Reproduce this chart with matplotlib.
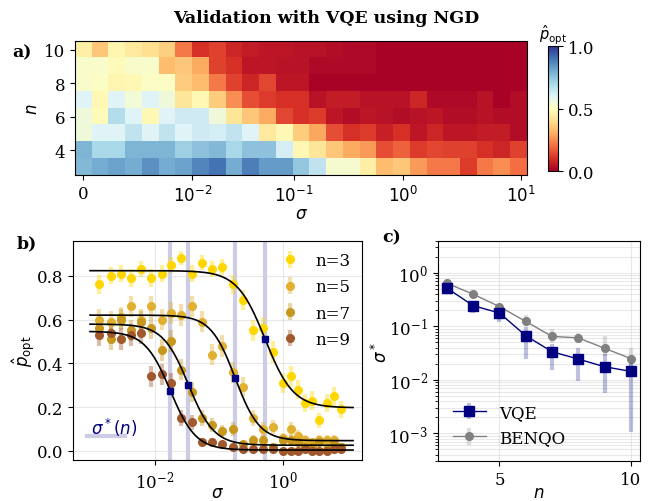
import numpy as np
import matplotlib
matplotlib.use("Agg")
import matplotlib.pyplot as plt
from matplotlib.colors import to_rgba

plt.rcParams['font.family'] = 'serif'
plt.rcParams['font.size'] = 12

# ---- panel a: heatmap of p_opt, rows n=3..10, 27 sigma columns ----
heat_n = [3, 4, 5, 6, 7, 8, 9, 10]
heat_n3 = [0.77, 0.80, 0.82, 0.80, 0.85, 0.80, 0.82, 0.87, 0.90, 0.80, 0.88, 0.83, 0.83, 0.74,
           0.66, 0.53, 0.53, 0.45, 0.33, 0.35, 0.27, 0.22, 0.22, 0.12, 0.22, 0.25, 0.20]
heat_n4 = [0.78, 0.70, 0.70, 0.78, 0.78, 0.78, 0.72, 0.75, 0.77, 0.70, 0.75, 0.75, 0.62, 0.48,
           0.42, 0.35, 0.30, 0.27, 0.15, 0.18, 0.12, 0.14, 0.13, 0.13, 0.10, 0.08, 0.13]
heat_n5 = [0.55, 0.60, 0.60, 0.66, 0.60, 0.66, 0.60, 0.63, 0.62, 0.66, 0.60, 0.43, 0.48, 0.36,
           0.29, 0.15, 0.10, 0.12, 0.07, 0.10, 0.05, 0.08, 0.05, 0.05, 0.06, 0.06, 0.03]
heat_n6 = [0.55, 0.49, 0.68, 0.60, 0.48, 0.60, 0.63, 0.63, 0.55, 0.42, 0.35, 0.30, 0.14, 0.10,
           0.12, 0.05, 0.03, 0.05, 0.04, 0.03, 0.04, 0.05, 0.03, 0.03, 0.04, 0.03, 0.03]
heat_n7 = [0.60, 0.48, 0.60, 0.54, 0.60, 0.55, 0.42, 0.48, 0.36, 0.25, 0.15, 0.12, 0.10, 0.10,
           0.04, 0.06, 0.06, 0.04, 0.04, 0.04, 0.08, 0.02, 0.02, 0.02, 0.04, 0.01, 0.03]
heat_n8 = [0.52, 0.51, 0.47, 0.48, 0.51, 0.51, 0.36, 0.33, 0.22, 0.13, 0.08, 0.14, 0.05, 0.05,
           0.01, 0.01, 0.01, 0.01, 0.01, 0.01, 0.01, 0.01, 0.01, 0.01, 0.01, 0.01, 0.01]
heat_n9 = [0.52, 0.52, 0.49, 0.52, 0.52, 0.33, 0.35, 0.30, 0.13, 0.10, 0.05, 0.05, 0.04, 0.04,
           0.02, 0.02, 0.02, 0.02, 0.01, 0.01, 0.01, 0.01, 0.01, 0.01, 0.01, 0.01, 0.01]
heat_n10 = [0.45, 0.35, 0.47, 0.43, 0.40, 0.37, 0.22, 0.10, 0.13, 0.08, 0.06, 0.05, 0.05, 0.04,
            0.04, 0.03, 0.02, 0.02, 0.01, 0.01, 0.01, 0.01, 0.01, 0.01, 0.01, 0.01, 0.01]
heat_ticklabels = ['0', '$10^{-2}$', '$10^{-1}$', '$10^{0}$', '$10^{1}$']

# ---- panel b: p_opt vs sigma for n=3,5,7,9 ----
sigma = [1.39e-3, 2.08e-3, 2.97e-3, 4.31e-3, 6.15e-3, 8.8e-3, 0.0130, 0.0179, 0.0259, 0.038,
         0.055, 0.0785, 0.113, 0.164, 0.234, 0.339, 0.49, 0.70, 1.0, 1.30, 1.71, 2.17, 2.82,
         3.62, 4.71, 6.11, 7.85]
p_n3 = [0.76, 0.80, 0.81, 0.79, 0.83, 0.79, 0.81, 0.85, 0.88, 0.81, 0.86, 0.83, 0.84, 0.76,
        0.69, 0.55, 0.56, 0.45, 0.31, 0.34, 0.28, 0.22, 0.23, 0.14, 0.22, 0.25, 0.19]
p_n5 = [0.60, 0.59, 0.61, 0.66, 0.60, 0.66, 0.60, 0.63, 0.62, 0.66, 0.59, 0.44, 0.48, 0.36,
        0.29, 0.15, 0.10, 0.11, 0.06, 0.10, 0.07, 0.05, 0.04, 0.05, 0.05, 0.05, 0.02]
p_n7 = [0.56, 0.51, 0.60, 0.55, 0.59, 0.56, 0.46, 0.50, 0.37, 0.27, 0.15, 0.12, 0.09, 0.10,
        0.03, 0.05, 0.05, 0.02, 0.05, 0.05, 0.04, 0.02, 0.02, 0.04, 0.01, 0.03, 0.02]
p_n9 = [0.53, 0.54, 0.51, 0.53, 0.54, 0.34, 0.35, 0.31, 0.15, 0.13, 0.04, 0.04, 0.03, 0.02,
        0.01, 0.01, 0.01, 0.01, 0.00, 0.00, 0.00, 0.01, 0.00, 0.00, 0.00, 0.01, 0.01]
# sigmoid fit parameters per n: upper plateau, lower plateau, sigma*, steepness
fit_hi = [0.823, 0.620, 0.579, 0.546]
fit_lo = [0.197, 0.047, 0.026, 0.004]
fit_sstar = [0.52, 0.178, 0.0336, 0.0176]
fit_k = [2.0, 2.3, 2.2, 2.2]
b_colors = ['#FFD700', '#E2B030', '#C8981E', '#A0582C']

# ---- panel c: sigma* vs n ----
n_vals = [3, 4, 5, 6, 7, 8, 9, 10]
vqe = [0.52, 0.244, 0.178, 0.067, 0.0336, 0.0245, 0.0176, 0.0144]
vqe_lo = [0.47, 0.178, 0.119, 0.0245, 0.0155, 0.0096, 0.0058, 0.00104]
vqe_hi = [0.57, 0.303, 0.21, 0.096, 0.047, 0.040, 0.030, 0.021]
benqo = [0.64, 0.40, 0.234, 0.124, 0.065, 0.061, 0.039, 0.025]
benqo_lo = [0.60, 0.37, 0.21, 0.10, 0.049, 0.049, 0.028, 0.014]
benqo_hi = [0.68, 0.43, 0.26, 0.163, 0.089, 0.075, 0.065, 0.040]

fig = plt.figure(figsize=(6.53, 5.02), dpi=100)
fig.suptitle('Validation with VQE using NGD', fontweight='bold', fontsize=12.5, y=0.98)

# panel a
ax_a = fig.add_axes([0.115, 0.649, 0.692, 0.267])
heat = np.array([heat_n3, heat_n4, heat_n5, heat_n6, heat_n7, heat_n8, heat_n9, heat_n10])
im = ax_a.imshow(heat, cmap='RdYlBu', vmin=0, vmax=1, aspect='auto', origin='lower',
                 extent=(-0.5, heat.shape[1] - 0.5, heat_n[0] - 0.5, heat_n[-1] + 0.5))
ax_a.set_xticks([0, 6.5, 12.56, 19.1, 26.15])
ax_a.set_xticklabels(heat_ticklabels)
ax_a.set_yticks([4, 6, 8, 10])
ax_a.set_xlabel('$\\sigma$', labelpad=0)
ax_a.set_ylabel('$n$', labelpad=2)
cax = fig.add_axes([0.839, 0.657, 0.016, 0.249])
cb = fig.colorbar(im, cax=cax, ticks=[0, 0.5, 1.0])
cax.set_title('$\\hat{p}_{\\rm opt}$', fontsize=10.5, pad=3)
fig.text(0.018, 0.885, 'a)', fontweight='bold', fontsize=12.5)

# panel b
ax_b = fig.add_axes([0.1123, 0.0823, 0.4417, 0.4363])
ax_b.set_xscale('log')
for i, (n, p) in enumerate(zip([3, 5, 7, 9], [p_n3, p_n5, p_n7, p_n9])):
    p = np.array(p)
    err = np.sqrt(np.clip(p * (1 - p), 0.01, None) / 100)
    ax_b.errorbar(sigma, p, yerr=err, fmt='o', ms=5.5, color=b_colors[i],
                  ecolor=to_rgba(b_colors[i], 0.4), elinewidth=3, capsize=0, label=f'n={n}')
s_fit = np.logspace(-3, np.log10(12), 300)
for i in range(4):
    curve = fit_lo[i] + (fit_hi[i] - fit_lo[i]) / (1 + (s_fit / fit_sstar[i]) ** fit_k[i])
    ax_b.plot(s_fit, curve, color='black', lw=1.2, zorder=4)
    ax_b.axvline(fit_sstar[i], color='navy', alpha=0.2, lw=3, zorder=1)
    ax_b.plot(fit_sstar[i], (fit_hi[i] + fit_lo[i]) / 2, 's', color='navy', ms=4, zorder=5)
ax_b.set_xlim(5.5e-4, 16.4)
ax_b.set_ylim(-0.04, 0.96)
ax_b.set_xticks([1e-2, 1])
ax_b.xaxis.set_minor_locator(matplotlib.ticker.NullLocator())
ax_b.set_yticks([0.0, 0.2, 0.4, 0.6, 0.8])
ax_b.grid(True, color='lightgray', alpha=0.5)
ax_b.set_xlabel('$\\sigma$', labelpad=-5)
ax_b.set_ylabel('$\\hat{p}_{\\rm opt}$', labelpad=0)
ax_b.legend(loc='upper right', frameon=False, handletextpad=0.5, labelspacing=0.55,
            borderaxespad=0.3)
ax_b.text(0.14, 0.149, '$\\sigma^*(n)$', color='navy', transform=ax_b.transAxes,
          ha='center', va='center', fontsize=12)
ax_b.plot([0.049, 0.179], [0.11, 0.11], color='navy', alpha=0.2, lw=3, transform=ax_b.transAxes)
fig.text(0.025, 0.505, 'b)', fontweight='bold', fontsize=12.5)

# panel c
ax_c = fig.add_axes([0.6703, 0.0791, 0.3098, 0.4394])
ax_c.set_yscale('log')
vqe_a = np.array(vqe)
ax_c.errorbar(n_vals, vqe, yerr=[vqe_a - np.array(vqe_lo), np.array(vqe_hi) - vqe_a],
              fmt='s-', color='navy', ms=7, lw=1, ecolor=to_rgba('navy', 0.25),
              elinewidth=3, capsize=0, label='VQE', zorder=3)
ben_a = np.array(benqo)
ax_c.errorbar(n_vals, benqo, yerr=[ben_a - np.array(benqo_lo), np.array(benqo_hi) - ben_a],
              fmt='o-', color='gray', ms=5.5, lw=1, ecolor=to_rgba('gray', 0.25),
              elinewidth=3, capsize=0, label='BENQO', zorder=2)
ax_c.set_ylim(3e-4, 4)
ax_c.set_xlim(2.65, 10.35)
ax_c.set_xticks([5, 10])
ax_c.grid(True, which='both', color='lightgray', alpha=0.5)
ax_c.set_xlabel('$n$', labelpad=-3)
ax_c.set_ylabel('$\\sigma^*$', labelpad=-2)
ax_c.legend(loc='lower left', frameon=False)
fig.text(0.585, 0.518, 'c)', fontweight='bold', fontsize=12.5)

fig.savefig('out.png', dpi=100)
